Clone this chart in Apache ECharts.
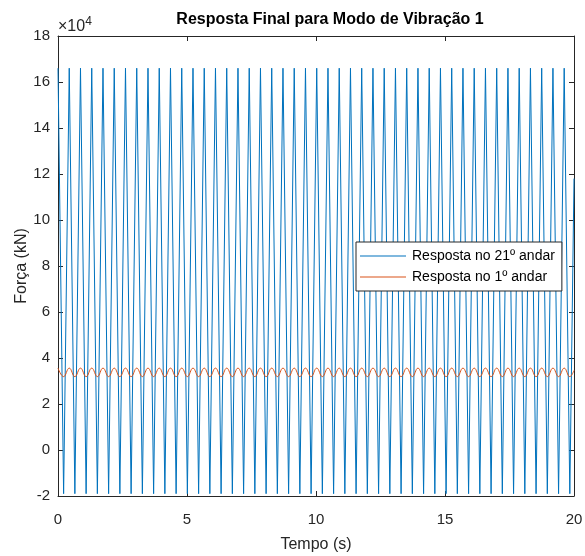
<!DOCTYPE html>
<html><head><meta charset="utf-8">
<script src="https://cdn.jsdelivr.net/npm/echarts@6/dist/echarts.min.js"></script>
<style>html,body{margin:0;padding:0;background:#fff}#c{width:585px;height:556px}</style>
</head><body><div id="c"></div>
<script>
var tempo = [0,0.218,0.436,0.654,0.872,1.09,1.308,1.526,1.744,1.962,
  2.18,2.398,2.616,2.834,3.052,3.27,3.488,3.706,3.924,4.142,
  4.36,4.578,4.796,5.014,5.232,5.45,5.668,5.886,6.104,6.322,
  6.54,6.758,6.976,7.194,7.412,7.63,7.848,8.066,8.284,8.502,
  8.72,8.938,9.156,9.374,9.592,9.81,10.028,10.246,10.464,10.682,
  10.9,11.118,11.336,11.554,11.772,11.99,12.208,12.426,12.644,12.862,
  13.08,13.298,13.516,13.734,13.952,14.17,14.388,14.606,14.824,15.042,
  15.26,15.478,15.696,15.914,16.132,16.35,16.568,16.786,17.004,17.222,
  17.44,17.658,17.876,18.094,18.312,18.53,18.748,18.966,19.184,19.402,
  19.62,19.838,20];
var resposta21 = [166000,-19000,166000,-19000,166000,-19000,166000,-19000,166000,-19000,
  166000,-19000,166000,-19000,166000,-19000,166000,-19000,166000,-19000,
  166000,-19000,166000,-19000,166000,-19000,166000,-19000,166000,-19000,
  166000,-19000,166000,-19000,166000,-19000,166000,-19000,166000,-19000,
  166000,-19000,166000,-19000,166000,-19000,166000,-19000,166000,-19000,
  166000,-19000,166000,-19000,166000,-19000,166000,-19000,166000,-19000,
  166000,-19000,166000,-19000,166000,-19000,166000,-19000,166000,-19000,
  166000,-19000,166000,-19000,166000,-19000,166000,-19000,166000,-19000,
  166000,-19000,166000,-19000,166000,-19000,166000,-19000,166000,-19000,
  166000,-19000,118000];
var resposta1 = [35600,31900,35600,31900,35600,31900,35600,31900,35600,31900,
  35600,31900,35600,31900,35600,31900,35600,31900,35600,31900,
  35600,31900,35600,31900,35600,31900,35600,31900,35600,31900,
  35600,31900,35600,31900,35600,31900,35600,31900,35600,31900,
  35600,31900,35600,31900,35600,31900,35600,31900,35600,31900,
  35600,31900,35600,31900,35600,31900,35600,31900,35600,31900,
  35600,31900,35600,31900,35600,31900,35600,31900,35600,31900,
  35600,31900,35600,31900,35600,31900,35600,31900,35600,31900,
  35600,31900,35600,31900,35600,31900,35600,31900,35600,31900,
  35600,31900,34600];
var xTicks = [0,5,10,15,20];
var yTicks = [-2,0,2,4,6,8,10,12,14,16,18];
var nomes = ['Resposta no 21º andar','Resposta no 1º andar'];
var titulo = 'Resposta Final para Modo de Vibração 1';

function pares(t, v){ return t.map(function(x,i){ return [x, v[i]]; }); }
var AX = '#262626';
var FONT = '"Liberation Sans", Arial, sans-serif';
var chart = echarts.init(document.getElementById('c'), null, {renderer:'canvas'});
var tick = {show:true, inside:true, length:5, lineStyle:{color:AX, width:1}};
var line = {show:true, onZero:false, lineStyle:{color:AX, width:1}};
chart.setOption({
  animation:false,
  backgroundColor:'#fff',
  textStyle:{fontFamily:FONT},
  title:{text:titulo, left:325, textAlign:'center', top:7,
    textStyle:{fontFamily:FONT, fontSize:16, fontWeight:'bold', color:'#000'}},
  grid:{left:58, right:11, top:36, bottom:60, containLabel:false, outerBoundsMode:'none'},
  legend:{orient:'vertical', left:356, top:242,
    backgroundColor:'#fff', borderColor:AX, borderWidth:1, borderRadius:0,
    padding:[7,7,7,4], itemGap:7, itemWidth:46, itemHeight:1, icon:'rect',
    textStyle:{fontFamily:FONT, fontSize:14, color:'#000', padding:[0,0,0,1]},
    data:nomes},
  xAxis:[
    {type:'value', min:xTicks[0], max:xTicks[xTicks.length-1], interval:5, position:'bottom',
     axisLine:line, axisTick:tick, splitLine:{show:false},
     axisLabel:{color:'#262626', fontSize:15, margin:16, fontFamily:FONT},
     name:'Tempo (s)', nameLocation:'middle', nameGap:41,
     nameTextStyle:{fontFamily:FONT, fontSize:16, color:'#262626'}},
    {type:'value', min:xTicks[0], max:xTicks[xTicks.length-1], interval:5, position:'top',
     axisLine:line, axisTick:tick, splitLine:{show:false},
     axisLabel:{show:false}}
  ],
  yAxis:[
    {type:'value', min:yTicks[0]*1e4, max:yTicks[yTicks.length-1]*1e4, interval:20000, position:'left',
     axisLine:line, axisTick:tick, splitLine:{show:false},
     axisLabel:{color:'#262626', fontSize:15, margin:8, fontFamily:FONT,
       formatter:function(v){ return String(Math.round(v/1e4)); }},
     name:'Força (kN)', nameLocation:'middle', nameGap:28, nameRotate:90, nameMoveOverlap:false,
     nameTextStyle:{fontFamily:FONT, fontSize:16, color:'#262626'}},
    {type:'value', min:yTicks[0]*1e4, max:yTicks[yTicks.length-1]*1e4, interval:20000, position:'right',
     axisLine:line, axisTick:tick, splitLine:{show:false},
     axisLabel:{show:false}}
  ],
  graphic:[{type:'text', left:58, top:16,
    style:{text:'×10{s|4}', rich:{s:{fontSize:12, verticalAlign:'top', padding:[0,0,9,0], fill:'#262626', fontFamily:FONT}},
      fontSize:16, fontFamily:FONT, fill:'#262626'}}],
  series:[
    {name:nomes[0], type:'line', data:pares(tempo,resposta21), showSymbol:false, symbol:'none',
     lineStyle:{color:'#0072BD', width:1}, itemStyle:{color:'#0072BD'}, z:2},
    {name:nomes[1], type:'line', data:pares(tempo,resposta1), showSymbol:false, symbol:'none', smooth:0.45,
     lineStyle:{color:'#D95319', width:1}, itemStyle:{color:'#D95319'}, z:3}
  ]
});
</script></body></html>
